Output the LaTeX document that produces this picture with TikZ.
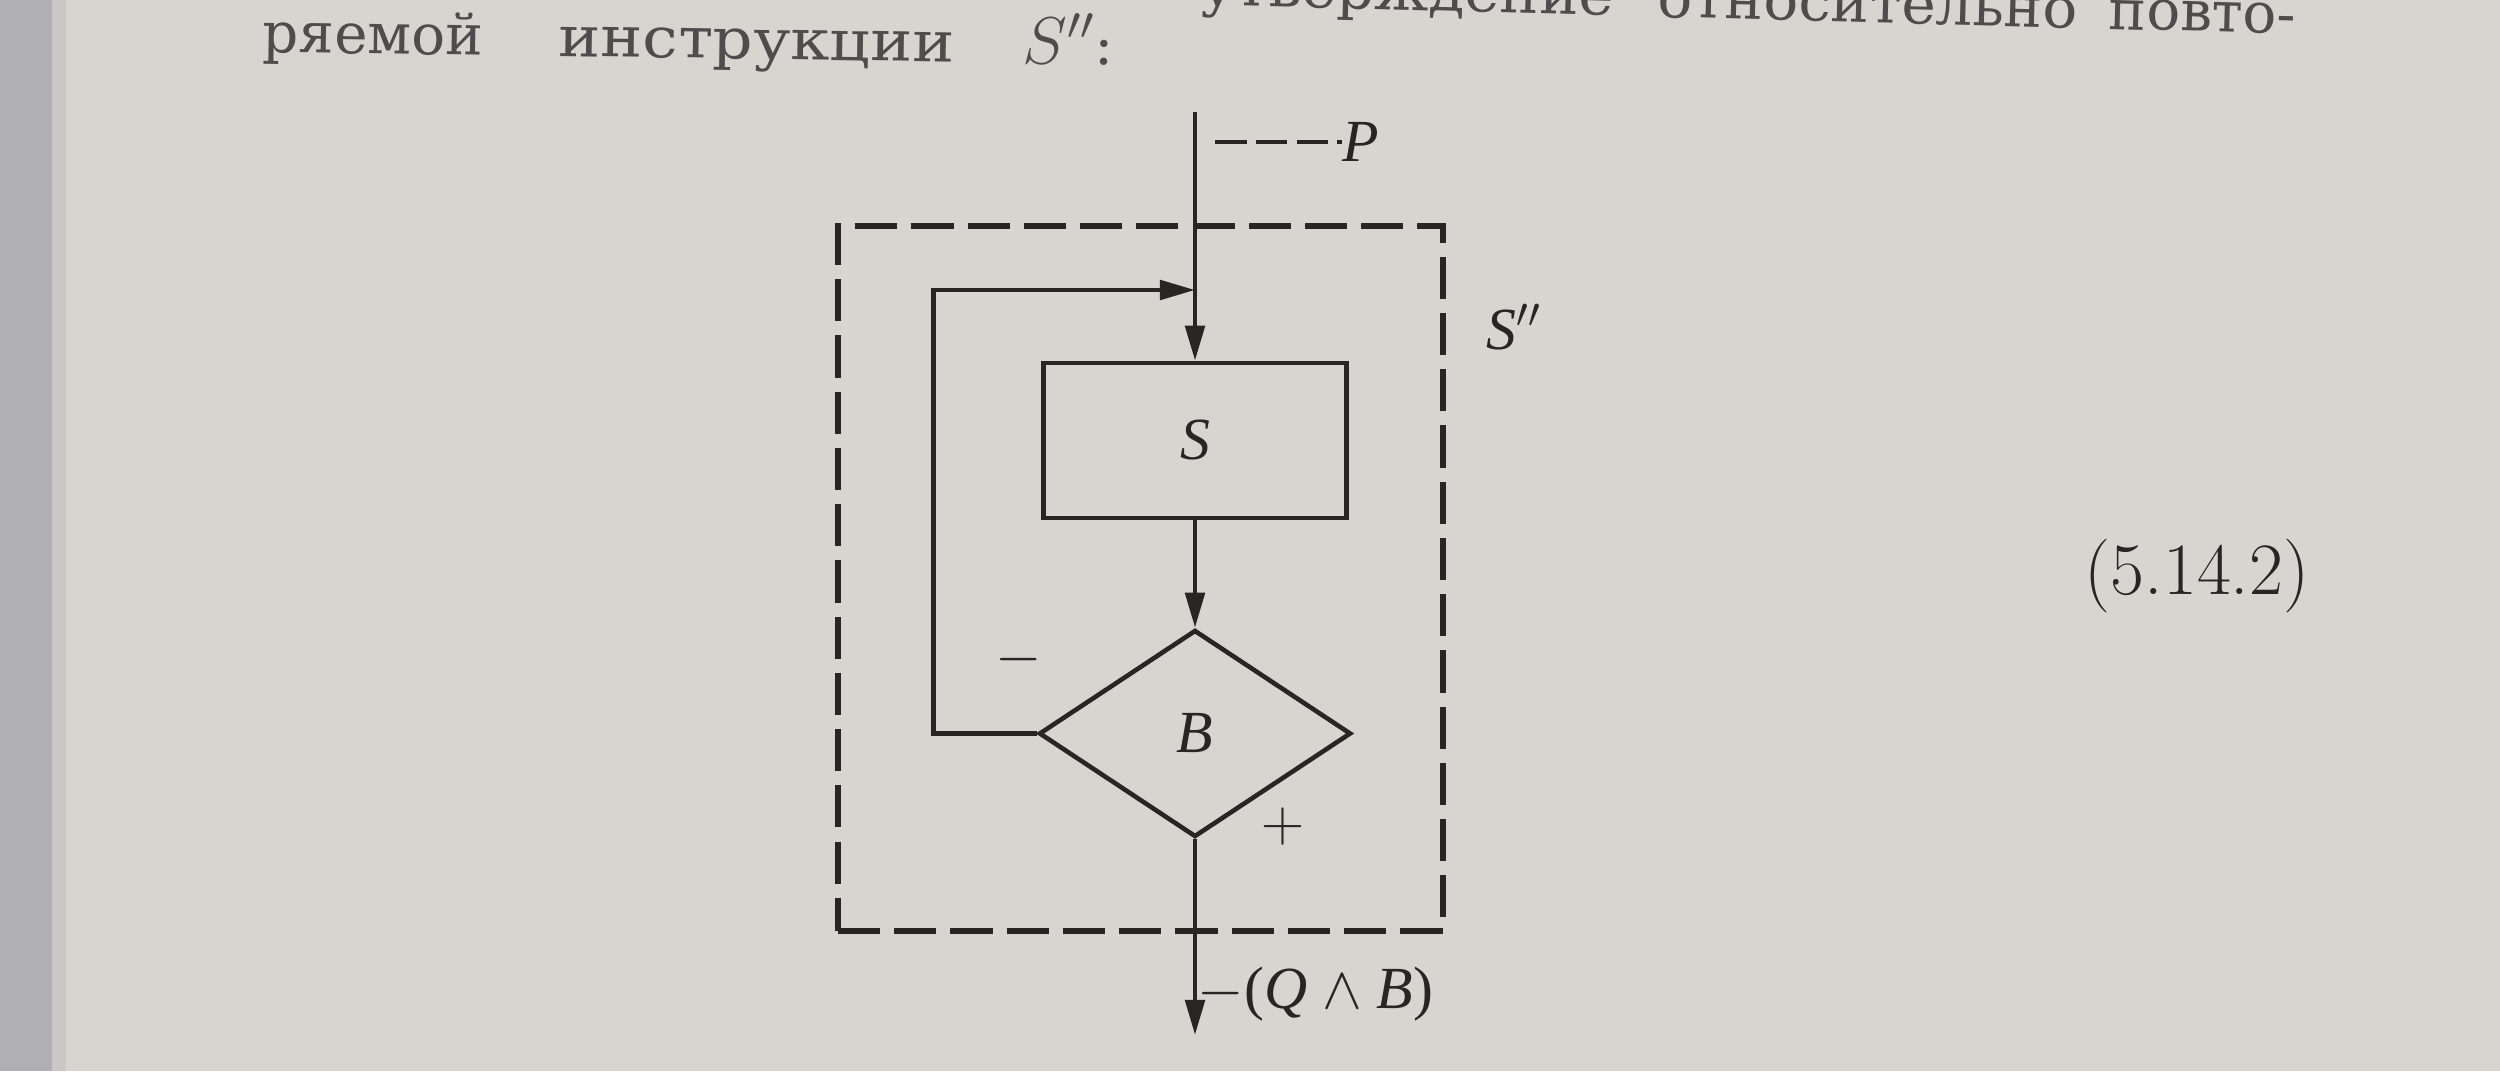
\RequirePackage{fix-cm}
\documentclass[tikz,border=0pt]{standalone}
\usepackage{fontspec}
\newfontfamily\cyrfont{DejaVu Serif}
\newfontfamily\labelfont{Liberation Serif}
\usetikzlibrary{shapes.geometric, arrows.meta, positioning}
\definecolor{paper}{RGB}{216,212,208}
\definecolor{ink}{RGB}{40,37,37}
\definecolor{print}{RGB}{78,76,76}
\definecolor{bookedge}{RGB}{176,176,180}
\definecolor{pageedge}{RGB}{202,199,196}
\tikzset{
  block/.style={draw=ink, line width=1.3pt, minimum width=3.03cm, minimum height=1.55cm, inner sep=0pt},
  decision/.style={diamond, draw=ink, line width=1.3pt, minimum width=3.12cm, minimum height=2.07cm, inner sep=0pt},
  flow/.style={draw=ink, line width=1.3pt},
  arr/.style={flow, -{Triangle[length=10pt, width=5.5pt]}},
  frame/.style={draw=ink, line width=1.8pt, dash pattern=on 12pt off 4pt, minimum width=6.05cm, minimum height=7.05cm, inner sep=0pt},
  leader/.style={draw=ink, line width=0.9pt, dash pattern=on 9pt off 2.6pt},
  lbl/.style={text=ink, font=\labelfont\fontsize{17}{19}\selectfont, inner sep=0pt},
  pagetext/.style={text=print, font=\cyrfont\fontsize{16}{18}\selectfont, inner sep=0pt, anchor=base west}
}

\begin{document}
\begin{tikzpicture}
  % the page
  \fill[paper] (0,0) rectangle (25,-10.71);
  \fill[pageedge] (0,0) rectangle (0.66,-10.71);
  \fill[bookedge] (0,0) rectangle (0.52,-10.71);
  \useasboundingbox (0,0) rectangle (25,-10.71);

  % lines of the running text
  \node[pagetext, rotate=-1.5, xscale=1.05] (w1) at (12.00,-0.05) {утверждение};
  \node[pagetext, rotate=-1.5, xscale=1.03] (w2) at (16.57,-0.17) {относительно};
  \node[pagetext, rotate=-1.5] (w3) at (21.08,-0.29) {повто-};
  \node[pagetext, rotate=-0.9] (w4) at (2.62,-0.52) {ряемой};
  \node[pagetext, rotate=-0.9, xscale=1.12] (w5) at (5.58,-0.56) {инструкции};
  \node[pagetext, rotate=-0.9] (w6) at (10.22,-0.63) {\fontsize{19}{21}\selectfont$S''$\cyrfont\fontsize{16}{18}\selectfont:};

  % flowchart of S''
  \node[frame] (outer) at (11.405,-5.785) {};
  \node[block, lbl] (body) at (11.95,-4.405) {\raisebox{-0.05cm}{\itshape S}};
  \node[decision, lbl] (test) at (11.95,-7.335) {\raisebox{-0.09cm}{\itshape B}};
  \coordinate (in) at (11.95,-1.12);
  \coordinate (join) at (11.95,-2.90);
  \coordinate (out) at (11.95,-10.35);

  \draw[arr] (in) -- (body.north);
  \draw[arr] (test.west) -- ++(-1.03,0) |- (join);
  \draw[arr] (body.south) -- (test.north);
  \draw[arr] (test.south) -- (out);

  % assertions and labels
  \node[lbl] (pre) at (13.61,-1.42) {\itshape P};
  \coordinate (prestart) at (12.15,-1.42);
  \draw[leader] (prestart) -- (pre.west);
  \node[lbl, anchor=west] (post) at (11.97,-9.94) {$-$(\textit{Q} $\wedge$ \textit{B})};
  \node[lbl] (no) at (10.19,-6.60) {$-$};
  \node[lbl] (yes) at (12.83,-8.27) {$+$};
  \node[lbl] (name) at (15.14,-3.27) {\textit{S}$''$};
  \node[text=ink, inner sep=0pt, font=\fontsize{21}{24}\selectfont] (eqno) at (21.97,-5.76) {(5.14.2)};
\end{tikzpicture}
\end{document}
